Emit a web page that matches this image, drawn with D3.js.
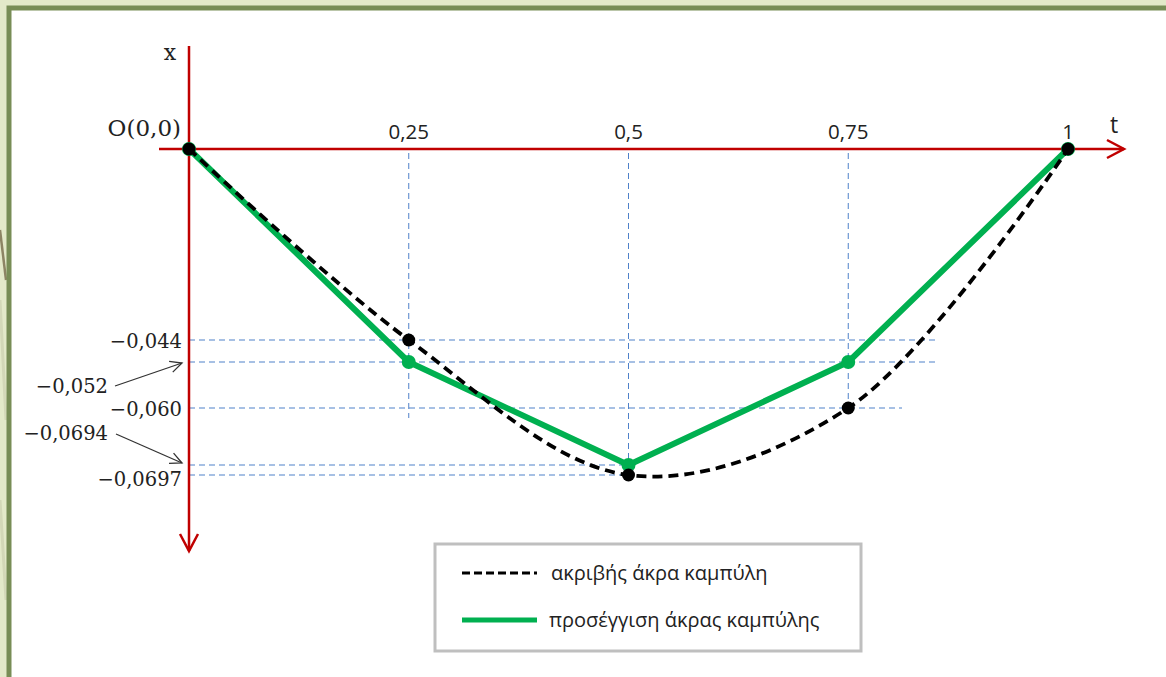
<!DOCTYPE html>
<html><head><meta charset="utf-8">
<script src="https://cdn.jsdelivr.net/npm/d3@7"></script>
<style>html,body{margin:0;padding:0;background:#fff;overflow:hidden}</style>
</head><body>
<svg id="c" width="1166" height="677"></svg>
<script>
// ---- data ----
const tValues = [0, 0.25, 0.5, 0.75, 1];
const tTickLabels = ["0,25", "0,5", "0,75", "1"];
const exactValues = [0, -0.044, -0.0697, -0.060, 0];          // ακριβής άκρα καμπύλη
const approxValues = [0, -0.052, -0.0694, -0.052, 0];         // προσέγγιση άκρας καμπύλης
const yMarks = [-0.044, -0.052, -0.060, -0.0694, -0.0697];
const yMarkLabels = ["\u22120,044", "\u22120,052", "\u22120,060", "\u22120,0694", "\u22120,0697"];
const legendLabels = ["ακριβής άκρα καμπύλη", "προσέγγιση  άκρας καμπύλης"];

const svg = d3.select("#c");

// background frame
svg.append("rect").attr("x",0).attr("y",0).attr("width",1166).attr("height",677).attr("fill","#fff");
svg.append("rect").attr("x",0).attr("y",0).attr("width",1166).attr("height",8).attr("fill","#e3e9c9");
svg.append("rect").attr("x",0).attr("y",0).attr("width",8).attr("height",677).attr("fill","#e3e9c9");
svg.append("path").attr("d","M0,300 L6,420 M0,500 L6,600").attr("stroke","#d3d8b8").attr("stroke-width",3).attr("fill","none");
svg.append("path").attr("d","M0,230 L6,280").attr("stroke","#8c8464").attr("stroke-width",2.5).attr("fill","none");
svg.append("path").attr("d","M9,677 L9,8 L1166,8").attr("stroke","#788d56").attr("stroke-width",5).attr("fill","none");

// scales (schematic, piecewise linear vertical scale as in the original drawing)
const x = d3.scaleLinear().domain([0,1]).range([189,1068]);
const y = d3.scaleLinear()
  .domain([0, -0.044, -0.052, -0.060, -0.0694, -0.0697, -0.09])
  .range([149, 340, 362, 408, 465, 475, 560]);

const red = "#c00000", blue = "#4f81c9";

// guide lines
const hEnds = {"-0.044":935, "-0.052":935, "-0.06":902, "-0.0694":628, "-0.0697":628};
const g = svg.append("g");
yMarks.forEach(v => {
  g.append("line").attr("x1",x(0)).attr("x2",hEnds[String(v)]).attr("y1",y(v)).attr("y2",y(v))
   .attr("stroke",blue).attr("stroke-width",1).attr("stroke-dasharray","6,4");
});
const vEnds = [418, 475, 408];
[0.25,0.5,0.75].forEach((t,i) => {
  g.append("line").attr("x1",x(t)).attr("x2",x(t)).attr("y1",y(0)+4).attr("y2",vEnds[i])
   .attr("stroke",blue).attr("stroke-width",1).attr("stroke-dasharray","6,4");
});

// axes
svg.append("line").attr("x1",x(0)).attr("x2",x(0)).attr("y1",46).attr("y2",551).attr("stroke",red).attr("stroke-width",2.5);
svg.append("path").attr("d",`M${x(0)-9},534 L${x(0)},551 L${x(0)+9},534`).attr("stroke",red).attr("stroke-width",2.5).attr("fill","none");
svg.append("line").attr("x1",159).attr("x2",1124).attr("y1",y(0)).attr("y2",y(0)).attr("stroke",red).attr("stroke-width",2.5);
svg.append("path").attr("d",`M1107,${y(0)-9} L1124,${y(0)} L1107,${y(0)+9}`).attr("stroke",red).attr("stroke-width",2.5).attr("fill","none");

// axis labels
const serif = "'DejaVu Serif', 'Liberation Serif', serif";
const sans = "'Open Sans', 'Liberation Sans', sans-serif";
svg.append("text").attr("x",170).attr("y",60).attr("text-anchor","middle").attr("font-family",serif).attr("font-size",22).attr("fill","#222").text("x");
svg.append("text").attr("x",1114).attr("y",133).attr("text-anchor","middle").attr("font-family",sans).attr("font-size",23).attr("fill","#222").text("t");
svg.append("text").attr("x",181).attr("y",136).attr("text-anchor","end").attr("font-family",serif).attr("font-size",23).attr("fill","#222").text("O(0,0)");

tTickLabels.forEach((lab,i) => {
  svg.append("text").attr("x",x(tValues[i+1])).attr("y",139).attr("text-anchor","middle")
    .attr("font-family",sans).attr("font-size",20.5).attr("fill","#222").text(lab);
});

// y mark labels
const labPos = [
  {x:182, dy:8},   // -0.044
  {x:108, dy:31},  // -0.052 (with arrow)
  {x:182, dy:8},   // -0.060
  {x:108, dy:-25}, // -0.0694 (with arrow)
  {x:182, dy:11}   // -0.0697
];
yMarks.forEach((v,i) => {
  svg.append("text").attr("x",labPos[i].x).attr("y",y(v)+labPos[i].dy).attr("text-anchor","end")
    .attr("font-family",serif).attr("font-size",19.5).attr("fill","#222").text(yMarkLabels[i]);
});
// arrows
function arrow(x1,y1,x2,y2){
  svg.append("line").attr("x1",x1).attr("y1",y1).attr("x2",x2).attr("y2",y2).attr("stroke","#333").attr("stroke-width",1.3);
  const a = Math.atan2(y2-y1,x2-x1), L=13, w=0.45;
  svg.append("path").attr("d",`M${x2-L*Math.cos(a-w)},${y2-L*Math.sin(a-w)} L${x2},${y2} L${x2-L*Math.cos(a+w)},${y2-L*Math.sin(a+w)}`)
    .attr("stroke","#333").attr("stroke-width",1.3).attr("fill","none");
}
arrow(115,386,182,363);
arrow(116,434,182,463);

// series
const approxLine = d3.line().x((d,i)=>x(tValues[i])).y(d=>y(d));
svg.append("path").datum(approxValues).attr("d",approxLine).attr("fill","none").attr("stroke","#00b050").attr("stroke-width",6).attr("stroke-linejoin","round");
svg.selectAll(".gdot").data(approxValues).join("circle").attr("cx",(d,i)=>x(tValues[i])).attr("cy",d=>y(d)).attr("r",7).attr("fill","#00b050");

const exactLine = d3.line().x((d,i)=>x(tValues[i])).y(d=>y(d)).curve(d3.curveCatmullRom.alpha(0.5));
svg.append("path").datum(exactValues).attr("d",exactLine).attr("fill","none").attr("stroke","#000").attr("stroke-width",3.8).attr("stroke-dasharray","10,6");
svg.selectAll(".bdot").data(exactValues).join("circle").attr("cx",(d,i)=>x(tValues[i])).attr("cy",d=>y(d)).attr("r",6.5).attr("fill","#000");

// legend
const lg = svg.append("g");
lg.append("rect").attr("x",435).attr("y",544).attr("width",426).attr("height",107).attr("fill","#fff").attr("stroke","#bfbfbf").attr("stroke-width",3);
lg.append("line").attr("x1",462).attr("x2",537).attr("y1",573).attr("y2",573).attr("stroke","#000").attr("stroke-width",3).attr("stroke-dasharray","8,4");
lg.append("line").attr("x1",462).attr("x2",537).attr("y1",620).attr("y2",620).attr("stroke","#00b050").attr("stroke-width",5);
lg.append("text").attr("x",551).attr("y",580).attr("font-family",sans).attr("font-size",20).attr("fill","#222").text(legendLabels[0]);
lg.append("text").attr("x",549).attr("y",627).attr("font-family",sans).attr("font-size",20).attr("fill","#222").text(legendLabels[1]);
</script>
</body></html>
